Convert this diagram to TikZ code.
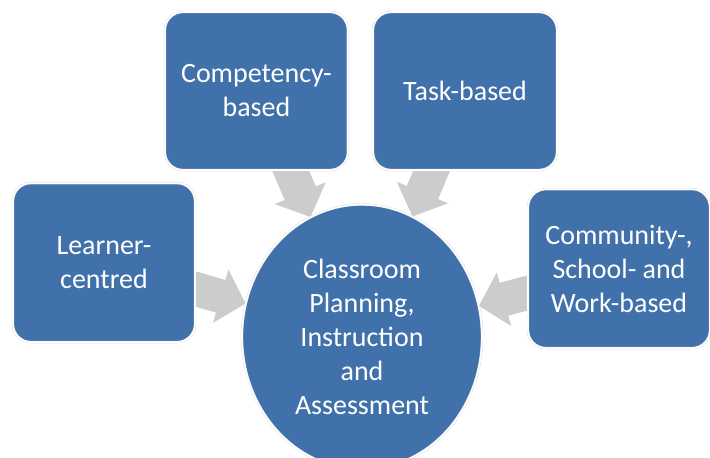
\documentclass[tikz,border=0pt]{standalone}
\usepackage{fontspec}
\setmainfont{Carlito}
\usepackage{xcolor}
\definecolor{planBlue}{HTML}{4171AB}
\definecolor{planGrey}{HTML}{CCCCCC}
\definecolor{planHalo}{HTML}{DADCE0}
\usepackage{tikz}
\usetikzlibrary{arrows.meta, shapes.geometric, backgrounds}
\tikzset{
  %% ── Boxes ────────────────────────────────────────────────────────────
  %% Every shape is the same blue with a thin white rim, so that the grey
  %% arrows passing under it are cut off cleanly.
  bloc/.style       = {fill=planBlue, draw=planHalo, double=white,
                       double distance=1.1pt, line width=0.3pt,
                       rounded corners=0.45cm, text=white, align=center,
                       inner sep=2pt, font=\fontsize{19.9}{24.2}\selectfont},
  blocRond/.style   = {bloc, ellipse, rounded corners=0pt, inner sep=0pt,
                       minimum width=6.0cm, minimum height=6.625cm},
  %%
  %% ── Arrows ───────────────────────────────────────────────────────────
  %% Broad block arrows, drawn from a box centre so the box hides the tail.
  flecheLarge/.style = {-{Triangle[length=0.65cm, width=1.35cm]},
                       draw=planGrey, line width=0.85cm},
}

\begin{document}
\begin{tikzpicture}[x=1cm, y=1cm]

\useasboundingbox (0, 0) rectangle (17.75, 11.425);

\node[bloc, minimum width=4.55cm, minimum height=3.975cm] (learner) at (2.6, 4.86)
     {Learner-\\centred};
\node[bloc, minimum width=4.575cm, minimum height=3.95cm] (competency) at (6.41, 9.15)
     {Competency-\\based};
\node[bloc, minimum width=4.6cm, minimum height=3.95cm] (task) at (11.625, 9.15)
     {Task-based};
\node[bloc, minimum width=4.55cm, minimum height=3.975cm] (community) at (15.475, 4.71)
     {Community-,\\School- and\\Work-based};

\node[blocRond] (classroom) at (9.05, 3.0)
     {Classroom\\Planning,\\Instruction\\and\\Assessment};

\begin{scope}[on background layer]
  \foreach \src in {learner, competency, task, community}
    \draw[flecheLarge] (\src.center) -- (classroom);
\end{scope}

\end{tikzpicture}
\end{document}
